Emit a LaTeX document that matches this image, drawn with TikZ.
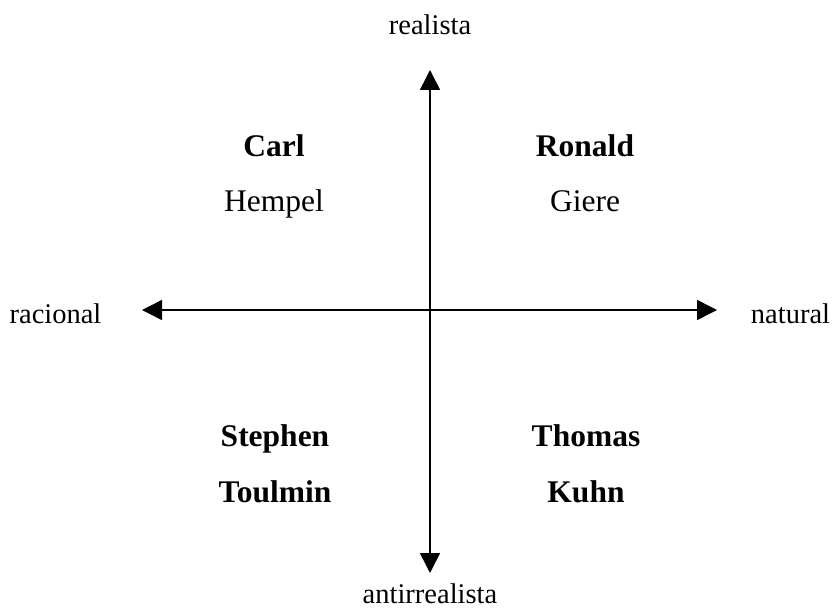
\documentclass[tikz,border=0pt]{standalone}
\usepackage{fontspec}
\setmainfont{Liberation Serif}
\usetikzlibrary{arrows.meta}
\begin{document}
\begin{tikzpicture}[x=1pt,y=-1pt,
  axis/.style={line width=1.5pt,{Triangle[length=20pt,width=20pt]}-{Triangle[length=20pt,width=20pt]}},
  axlabel/.style={inner sep=0pt,anchor=base,font=\fontsize{28.5}{34}\selectfont},
  nmtext/.style={inner sep=0pt,anchor=base,font=\fontsize{31.5}{38}\selectfont},
  bnmtext/.style={inner sep=0pt,anchor=base,font=\fontsize{31.5}{38}\selectfont\bfseries}]
\useasboundingbox[fill=white] (0,0) rectangle (832,612);
\coordinate (top) at (430,70);
\coordinate (bottom) at (430,573);
\coordinate (left) at (142,310);
\coordinate (right) at (717,310);
\draw[axis] (top) -- (bottom);
\draw[axis] (left) -- (right);
\node[axlabel] (realista) at (430,35) {realista};
\node[axlabel] (antirrealista) at (430,603) {antirrealista};
\node[axlabel] (racional) at (55.5,323) {racional};
\node[axlabel] (natural) at (790.5,323) {natural};
\node[bnmtext] (carl) at (274,157) {Carl};
\node[nmtext] (hempel) at (274,212) {Hempel};
\node[bnmtext] (ronald) at (585,157) {Ronald};
\node[nmtext] (giere) at (585,212) {Giere};
\node[bnmtext] (stephen) at (275,446) {Stephen};
\node[bnmtext] (toulmin) at (275,502) {Toulmin};
\node[bnmtext] (thomas) at (586,446) {Thomas};
\node[bnmtext] (kuhn) at (586,502) {Kuhn};
\end{tikzpicture}
\end{document}
